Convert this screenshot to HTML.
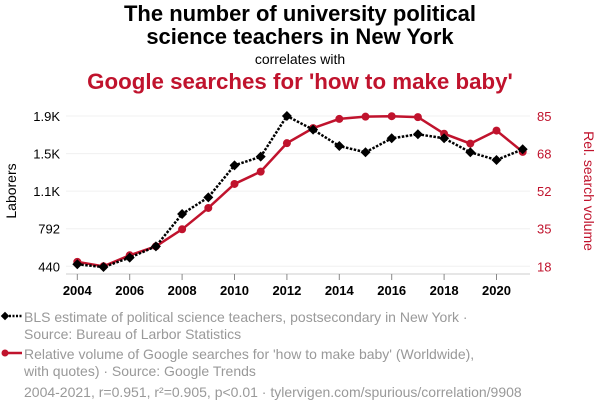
<!DOCTYPE html>
<html><head><meta charset="utf-8"><style>
body{margin:0;width:600px;height:414px;background:#fff;font-family:"Liberation Sans",sans-serif;overflow:hidden;position:relative}
.t{position:absolute;left:0;width:600px;text-align:center}
.lg{position:absolute;left:24px;color:#999;font-size:14px;line-height:17px}
</style></head><body>
<div class="t" style="top:2px;font-size:22px;font-weight:bold;line-height:23px;color:#000">The number of university political<br>science teachers in New York</div>
<div class="t" style="top:51px;font-size:14px;color:#000">correlates with</div>
<div class="t" style="top:69px;font-size:22.3px;font-weight:bold;color:#c0132d">Google searches for 'how to make baby'</div>
<svg id="c" width="600" height="300" style="position:absolute;left:0;top:0"></svg>
<div class="lg" style="top:309px">BLS estimate of political science teachers, postsecondary in New York ·<br>Source: Bureau of Larbor Statistics</div>
<div class="lg" style="top:346px">Relative volume of Google searches for 'how to make baby' (Worldwide),<br>with quotes) · Source: Google Trends</div>
<div class="lg" style="top:384px;left:24px">2004-2021, r=0.951, r²=0.905, p&lt;0.01 · tylervigen.com/spurious/correlation/9908</div>
<svg width="24" height="80" style="position:absolute;left:0;top:305px">
<line x1="2" y1="11" x2="22" y2="11" stroke="#000" stroke-width="2.5" stroke-dasharray="2,1.5"/><rect x="2" y="8" width="6" height="6" transform="rotate(45 5 11)" fill="#000"/>
<line x1="2" y1="48" x2="22" y2="48" stroke="#c0132d" stroke-width="2.5"/><circle cx="5" cy="48" r="3.5" fill="#c0132d"/>
</svg>
<script>
const years=[2004,2005,2006,2007,2008,2009,2010,2011,2012,2013,2014,2015,2016,2017,2018,2019,2020,2021];
const laborers=[459,433,521,627,930,1086,1386,1467,1848,1720,1567,1508,1639,1677,1639,1508,1436,1536];
const searches=[20,18,22.9,26.9,34.5,44,54.7,60.2,72.9,79.6,83.7,84.7,84.9,84.5,77.1,72.7,78.5,69];
const leftTicks=[440,792,1144,1496,1848];
const leftLabels=["440","792","1.1K","1.5K","1.9K"];
const rightTicks=[18,34.75,51.5,68.25,85];
const rightLabels=["18","35","52","68","85"];
const xTicks=[2004,2006,2008,2010,2012,2014,2016,2018,2020];
const NS="http://www.w3.org/2000/svg",svg=document.getElementById('c');
const x=v=>77.3+(v-2004)*26.2;
const yl=v=>266.3-(v-440)*150.3/1408;
const yr=v=>266.3-(v-18)*150.3/67;
function mk(t,a,p){const e=document.createElementNS(NS,t);for(const k in a)e.setAttribute(k,a[k]);(p||svg).appendChild(e);return e;}
leftTicks.forEach((v,i)=>{
const g=mk('line',{x1:66,x2:530,y1:yl(v),y2:yl(v),stroke:'#f0f0f0'});


const t=mk('text',{x:60,y:yl(v)+5,'text-anchor':'end','font-size':13,fill:'#000'});t.textContent=leftLabels[i];


});
rightTicks.forEach((v,i)=>{
const t=mk('text',{x:537,y:yr(v)+5,'font-size':13,fill:'#c0132d'});t.textContent=rightLabels[i];


});
mk('line',{x1:66,x2:530,y1:274,y2:274,stroke:'#ccc'});
xTicks.forEach(v=>{
mk('line',{x1:x(v),x2:x(v),y1:274,y2:280,stroke:'#888'});
const t=mk('text',{x:x(v),y:295,'text-anchor':'middle','font-size':13,'font-weight':'bold',fill:'#000'});t.textContent=v;


});
let a=mk('text',{x:0,y:0,transform:'translate(16,191) rotate(-90)','text-anchor':'middle','font-size':14,fill:'#000'});a.textContent='Laborers';


a=mk('text',{x:0,y:0,transform:'translate(584,191) rotate(90)','text-anchor':'middle','font-size':14,fill:'#c0132d'});a.textContent='Rel. search volume';


const rl=mk('polyline',{points:years.map((y,i)=>x(y)+','+yr(searches[i])).join(' '),fill:'none',stroke:'#c0132d','stroke-width':2.5});


years.forEach((y,i)=>{const c=mk('circle',{cx:x(y),cy:yr(searches[i]),r:4,fill:'#c0132d'});

});
const bl=mk('polyline',{points:years.map((y,i)=>x(y)+','+yl(laborers[i])).join(' '),fill:'none',stroke:'#000','stroke-width':2.5,'stroke-dasharray':'2.5,1.5'});


years.forEach((y,i)=>{const cx=x(y),cy=yl(laborers[i]);const d=mk('polygon',{points:`${cx},${cy-5} ${cx+5},${cy} ${cx},${cy+5} ${cx-5},${cy}`,fill:'#000'});

});
</script>
</body></html>
